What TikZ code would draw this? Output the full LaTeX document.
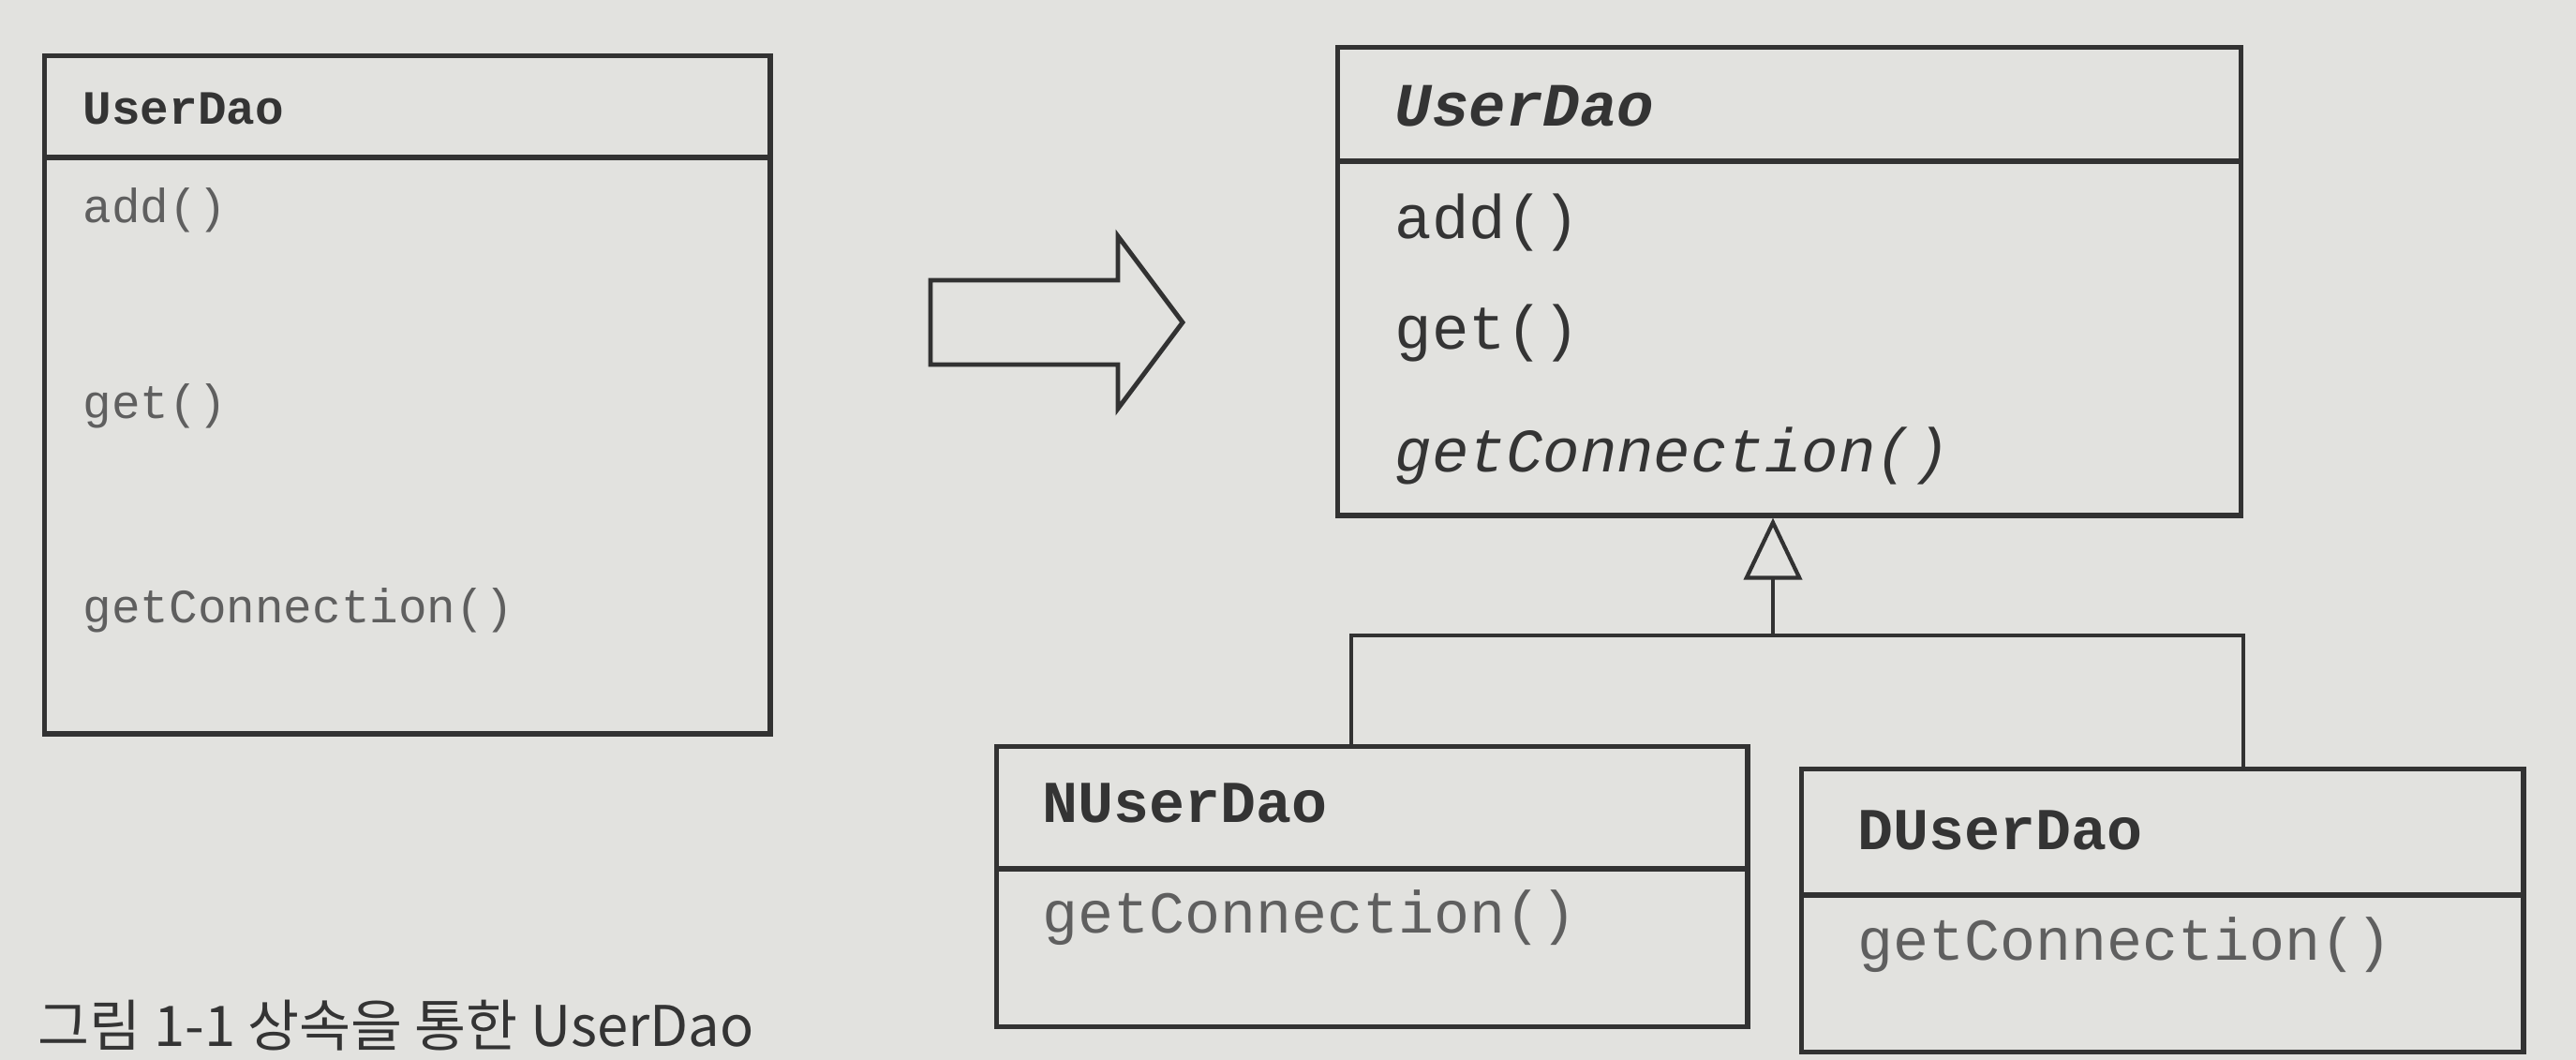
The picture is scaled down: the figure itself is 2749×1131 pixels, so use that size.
\documentclass[tikz,border=0pt]{standalone}
\usepackage{fontspec}
\setmonofont{Liberation Mono}
\newfontfamily\cjk{Noto Sans CJK KR}
\usetikzlibrary{arrows.meta}
\definecolor{fondo}{RGB}{226,226,223}
\definecolor{linea}{RGB}{50,50,50}
\definecolor{tinta}{RGB}{52,52,52}
\definecolor{gris}{RGB}{95,95,95}
\tikzset{
  clase/.style={draw=linea, line width=1.5pt, inner sep=0pt, anchor=north west},
  borde/.style={draw=linea, line width=1.5pt},
  metodo/.style={anchor=base west, inner sep=0pt, text=gris},
  chico/.style={font=\ttfamily\fontsize{14.5}{17}\selectfont},
  grande/.style={font=\ttfamily\fontsize{18.7}{22}\selectfont},
  medio/.style={font=\ttfamily\fontsize{18}{21}\selectfont},
  conector/.style={draw=linea, line width=0.9pt}
}
\begin{document}
\begin{tikzpicture}[x=0.01cm,y=-0.01cm]
  \useasboundingbox (0,0) rectangle (2749,1131);
  \clip (0,0) rectangle (2749,1131);
  \fill[fondo] (0,0) rectangle (2749,1131);
  %UserDao original
  \node[clase, minimum width=7.74cm, minimum height=7.23cm] (udA) at (45,57) {};
  \draw[borde] (udA.west |- 0,168) -- (udA.east |- 0,168);
  \node[metodo, chico, text=tinta] (tA) at (88,133) {\bfseries UserDao};
  \node[metodo, chico] (addA) at (88,238) {add()};
  \node[metodo, chico] (getA) at (88,447) {get()};
  \node[metodo, chico] (conA) at (88,664) {getConnection()};
  %Flecha
  \draw[borde, line width=1.4pt, line join=miter] (993,299) -- (1193,299) -- (1193,252) -- (1262,344)
    -- (1193,436) -- (1193,389) -- (993,389) -- cycle;
  %UserDao abstracta
  \node[clase, minimum width=9.63cm, minimum height=4.99cm] (udB) at (1425,48) {};
  \draw[borde] (udB.west |- 0,172) -- (udB.east |- 0,172);
  \node[metodo, grande, text=tinta] (tB) at (1488,135) {\bfseries\itshape UserDao};
  \node[metodo, grande, text=tinta] (addB) at (1488,255) {add()};
  \node[metodo, grande, text=tinta] (getB) at (1488,373) {get()};
  \node[metodo, grande, text=tinta] (conB) at (1488,504) {\itshape getConnection()};
  %NUserDao
  \node[clase, minimum width=8.01cm, minimum height=2.99cm] (nud) at (1061,794) {};
  \draw[borde] (nud.west |- 0,927) -- (nud.east |- 0,927);
  \node[metodo, medio, text=tinta] (tN) at (1112,877) {\bfseries NUserDao};
  \node[metodo, medio] (conN) at (1112,995) {getConnection()};
  %DUserDao
  \node[clase, minimum width=7.70cm, minimum height=3.02cm] (dud) at (1920,818) {};
  \draw[borde] (dud.west |- 0,955) -- (dud.east |- 0,955);
  \node[metodo, medio, text=tinta] (tD) at (1982,906) {\bfseries DUserDao};
  \node[metodo, medio] (conD) at (1982,1024) {getConnection()};
  %Herencia
  \coordinate (ramaN) at (1442,678);
  \coordinate (ramaD) at (2394,678);
  \coordinate (union) at (1892,678);
  \draw[conector] (nud.north -| ramaN) -- (ramaN) -- (ramaD) -- (ramaD |- dud.north);
  \draw[conector, -{Triangle[open, length=0.66cm, width=0.62cm, line width=1.2pt]}] (union) -- (union |- udB.south);
  %Pie
  \node[anchor=base west, inner sep=0pt, text=tinta, font=\cjk\fontsize{17}{19}\selectfont] (pie) at (40,1116)
    {그림 1-1 상속을 통한 UserDao};
\end{tikzpicture}
\end{document}
